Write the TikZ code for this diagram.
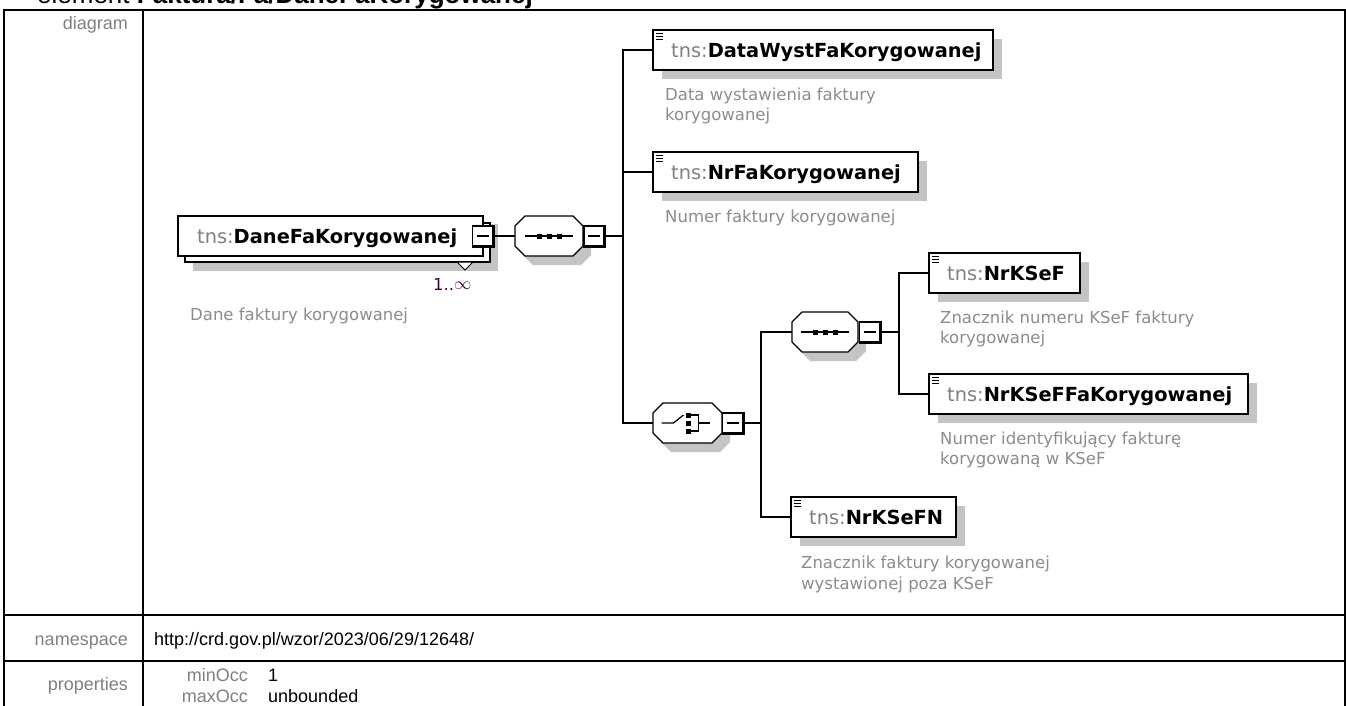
\documentclass[tikz,border=0pt]{standalone}
\usepackage{fontspec}
\setmainfont{Liberation Sans}
\newfontfamily\dv{DejaVu Sans}
\definecolor{shad}{HTML}{C4C4C4}
\definecolor{lbl}{HTML}{808080}
\definecolor{dsc}{HTML}{8C8C8C}
\definecolor{occ}{HTML}{400040}
\tikzset{
  tbl/.style={line width=2pt},
  ebox/.style={draw, line width=1.5pt, fill=white, minimum height=40pt, inner sep=0pt, outer sep=0pt},
  ename/.style={font=\dv\fontsize{19.4}{22}\selectfont, inner sep=0pt},
  dtext/.style={font=\dv\fontsize{16.5}{20}\selectfont, text=dsc, inner sep=0pt, anchor=base west},
  btnbox/.style={draw, line width=1.2pt, fill=white, minimum size=20pt, inner sep=0pt, outer sep=0pt},
  conn/.style={line width=1.5pt},
  tlabel/.style={font=\fontsize{18}{21}\selectfont, text=lbl, inner sep=0pt, anchor=base east},
  tval/.style={font=\fontsize{18}{21}\selectfont, inner sep=0pt, anchor=base west},
}
\newcommand\elem[5]{%
  \fill[shad] (#2+9,#3+9) rectangle ++(#4,40);
  \node[ebox, minimum width=#4pt, anchor=north west] (#1) at (#2,#3) {};
  \foreach \k in {3.5,6.5,9.5} \draw[line width=1.1pt] (#2+3,#3+\k) -- ++(7,0);
  \node[ename, anchor=base west] (#1-t) at (#2+18,#3+27) {\textcolor{lbl}{tns:}\textbf{#5}};
}
\newcommand\btn[3]{%
  \node[btnbox] (#1) at (#2,#3) {};
  \draw[line width=2.6pt] ([shift={(0.8pt,1pt)}]#1.north east) -- ([shift={(0.8pt,-0.8pt)}]#1.south east) -- ([shift={(-1pt,-0.8pt)}]#1.south west);
  \draw[line width=1.2pt] (#2-6,#3) -- (#2+6,#3);
}
\newcommand\octo[4]{%
  \fill[shad] (#2-#4+10+8,#3-20+9) -- (#2+#4-10+8,#3-20+9) -- (#2+#4+8,#3-10+9) -- (#2+#4+8,#3+10+9) -- (#2+#4-10+8,#3+20+9) -- (#2-#4+10+8,#3+20+9) -- (#2-#4+8,#3+10+9) -- (#2-#4+8,#3-10+9) -- cycle;
  \draw[line width=1.2pt, fill=white] (#2-#4+10,#3-20) -- (#2+#4-10,#3-20) -- (#2+#4,#3-10) -- (#2+#4,#3+10) -- (#2+#4-10,#3+20) -- (#2-#4+10,#3+20) -- (#2-#4,#3+10) -- (#2-#4,#3-10) -- cycle;
  \node[minimum width=2*#4, minimum height=40pt, inner sep=0pt, outer sep=0pt] (#1) at (#2,#3) {};
}
\begin{document}
\begin{tikzpicture}[x=1pt,y=-1pt]
\useasboundingbox (0,0) rectangle (1346,705);
\clip (0,0) rectangle (1346,705);
\fill[white] (0,0) rectangle (1346,705);
% title (cut off at top)
\node[anchor=base west, inner sep=0pt, font=\fontsize{26}{30}\selectfont] (title) at (37,3) {element \textbf{Faktura/Fa/DaneFaKorygowanej}};
% table
\draw[tbl] (4,720) -- (4,10) -- (1345,10) -- (1345,720);
\draw[tbl] (143,10) -- (143,720);
\draw[tbl] (4,615) -- (1345,615);
\draw[tbl] (4,661) -- (1345,661);
\node[tlabel] (l1) at (128,29) {diagram};
\node[tlabel] (l2) at (128,645) {namespace};
\node[tval] (v2) at (154,645) {http://crd.gov.pl/wzor/2023/06/29/12648/};
\node[tlabel] (l3) at (128,690) {properties};
\node[tlabel] (p1) at (248,681) {minOcc};
\node[tval] (p1v) at (268,681) {1};
\node[tlabel] (p2) at (248,702) {maxOcc};
\node[tval] (p2v) at (268,702) {unbounded};
% main element (stacked)
\fill[shad] (193,224) rectangle (498,271);
\draw[line width=1.5pt, fill=white] (185,223) rectangle (490,262);
\node[ebox, minimum width=305pt, anchor=north west] (main) at (178,216) {};
\node[ename, anchor=base west] (main-t) at (197,243) {\textcolor{lbl}{tns:}\textbf{DaneFaKorygowanej}};
\btn{mainb}{482.5}{236}
\draw[line width=1pt, fill=white] (457,262) -- (473,262) -- (465,270) -- cycle;
\node[anchor=base west, inner sep=0pt, text=occ, font=\dv\fontsize{16.5}{20}\selectfont] (occ) at (433,290) {1..\raisebox{0.5pt}{$\infty$}};
\node[dtext] (main-d) at (190,320) {Dane faktury korygowanej};
% sequence 1
\octo{seq1}{549}{236}{34}
\draw[line width=1.2pt] (525,236) -- (573,236);
\foreach \dx in {-10,0,10} \fill (549+\dx-2.5,233.5) rectangle ++(5,5);
\btn{seq1b}{594}{236}
% children of sequence 1
\elem{dw}{653}{30}{340}{DataWystFaKorygowanej}
\node[dtext] (dw-d1) at (665,100) {Data wystawienia faktury};
\node[dtext] (dw-d2) at (665,120) {korygowanej};
\elem{nrfa}{653}{152}{265}{NrFaKorygowanej}
\node[dtext] (nrfa-d) at (665,222) {Numer faktury korygowanej};
% choice
\octo{ch}{687.5}{423}{34.5}
\draw[line width=1.2pt] (661.5,423) -- (673.5,423) -- (683.5,415);
\foreach \dy in {-8,0,8} \fill (685.5,423+\dy-2.5) rectangle ++(5,5);
\draw[line width=1.2pt] (690.5,415) -- (698.5,415) -- (698.5,431) -- (690.5,431);
\draw[line width=1.2pt] (698.5,423) -- (710,423);
\btn{chb}{732.5}{423}
% sequence 2
\octo{seq2}{825}{332}{33}
\draw[line width=1.2pt] (801,332) -- (849,332);
\foreach \dx in {-10,0,10} \fill (825+\dx-2.5,329.5) rectangle ++(5,5);
\btn{seq2b}{869.5}{332}
% children of sequence 2
\elem{ks}{929}{253}{151}{NrKSeF}
\node[dtext] (ks-d1) at (940,323) {Znacznik numeru KSeF faktury};
\node[dtext] (ks-d2) at (940,343) {korygowanej};
\elem{ksfa}{929}{374}{319}{NrKSeFFaKorygowanej}
\node[dtext] (ksfa-d1) at (940,444) {Numer identyfikujący fakturę};
\node[dtext] (ksfa-d2) at (940,464) {korygowaną w KSeF};
\elem{ksn}{791}{497}{165}{NrKSeFN}
\node[dtext] (ksn-d1) at (801,568) {Znacznik faktury korygowanej};
\node[dtext] (ksn-d2) at (801,589) {wystawionej poza KSeF};
% connectors
\coordinate (bus1) at (623,236);
\coordinate (bus2) at (761,423);
\coordinate (bus3) at (899,332);
\draw[conn] (mainb.east) -- (seq1.west);
\draw[conn] (seq1b.east) -- (bus1);
\draw[conn] (bus1) |- (dw.west);
\draw[conn] (bus1) |- (nrfa.west);
\draw[conn] (bus1) |- (ch.west);
\draw[conn] (chb.east) -- (bus2);
\draw[conn] (bus2) |- (seq2.west);
\draw[conn] (bus2) |- (ksn.west);
\draw[conn] (seq2b.east) -- (bus3);
\draw[conn] (bus3) |- (ks.west);
\draw[conn] (bus3) |- (ksfa.west);
\end{tikzpicture}
\end{document}
